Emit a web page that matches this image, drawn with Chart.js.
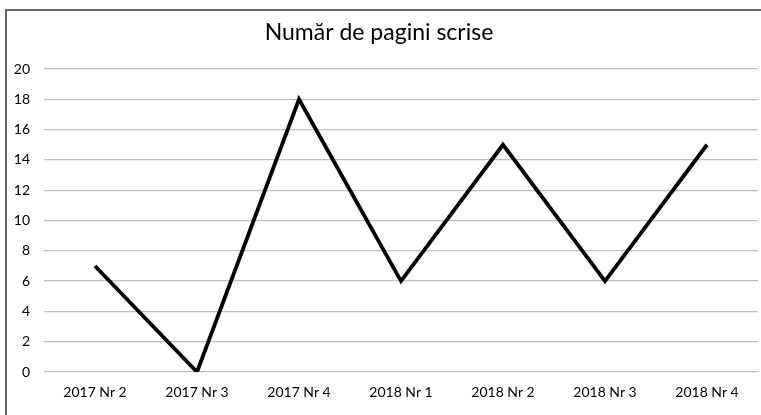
<!DOCTYPE html>
<html>
<head>
<meta charset="utf-8">
<script src="https://cdn.jsdelivr.net/npm/chart.js@4"></script>
<style>
html,body{margin:0;padding:0;background:#fff;}
#wrap{position:absolute;left:0;top:0;width:761px;height:415px;}
#frame{position:absolute;left:5px;top:9px;width:760px;height:420px;border-left:2px solid #666;border-top:2px solid #666;pointer-events:none;}
</style>
</head>
<body>
<div id="wrap"><canvas id="c" width="761" height="415"></canvas></div>
<div id="frame"></div>
<script>
const categories = ["2017 Nr 2","2017 Nr 3","2017 Nr 4","2018 Nr 1","2018 Nr 2","2018 Nr 3","2018 Nr 4"];
const pages = [7,0,18,6,15,6,15];
const titleText = "Număr de pagini scrise";
const yMin = 0, yMax = 20, yStep = 2;

new Chart(document.getElementById('c'), {
  type: 'line',
  data: {
    labels: categories,
    datasets: [{
      data: pages,
      borderColor: '#000',
      borderWidth: 3.8,
      borderJoinStyle: 'miter',
      pointRadius: 0,
      tension: 0,
      fill: false
    }]
  },
  options: {
    responsive: false,
    animation: false,
    layout: { padding: { left: 0, right: 3, top: 0, bottom: 0 } },
    plugins: {
      legend: { display: false },
      tooltip: { enabled: false },
      title: {
        display: true,
        text: titleText,
        color: '#000',
        font: { family: 'Lato', size: 23, weight: 'normal' },
        padding: { top: 19, bottom: 22.4 }
      }
    },
    scales: {
      x: {
        offset: true,
        grid: { display: false, drawTicks: false },
        border: { display: false },
        ticks: { color: '#000', font: { family: 'Lato', size: 14 }, padding: 12, maxRotation: 0 },
        afterFit: s => { s.height = 43; }
      },
      y: {
        min: yMin, max: yMax,
        grid: { color: '#c0c0c0', lineWidth: 1.3, drawTicks: false },
        border: { display: false },
        ticks: { stepSize: yStep, color: '#000', font: { family: 'Lato', size: 14 }, padding: 14 },
        afterFit: s => { s.width = 44; }
      }
    }
  }
});
</script>
</body>
</html>
